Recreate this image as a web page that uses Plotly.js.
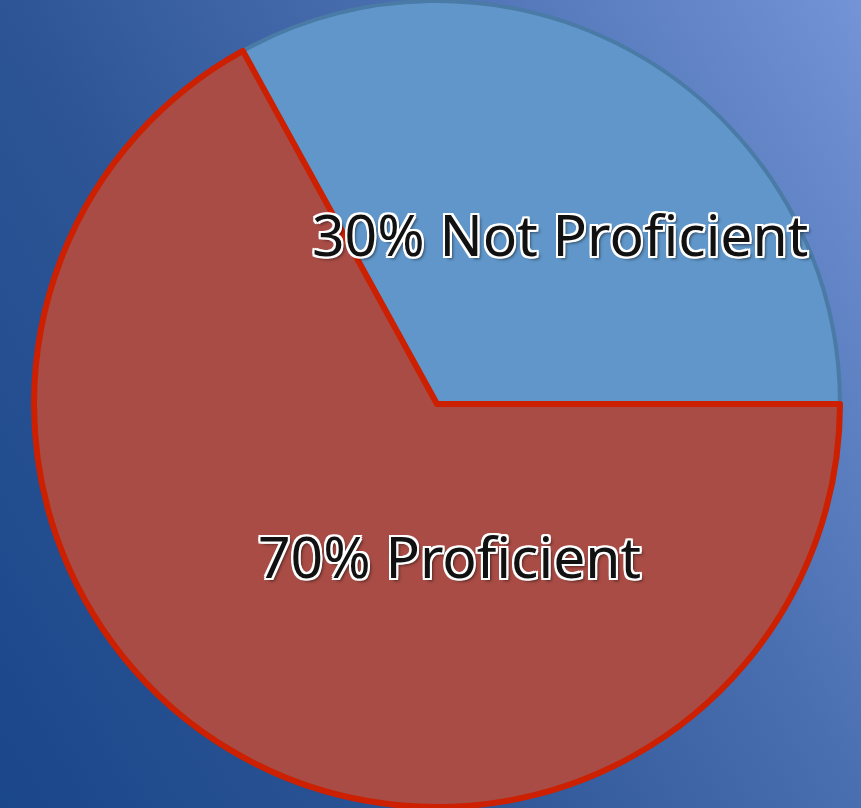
<!DOCTYPE html>
<html>
<head>
<meta charset="utf-8">
<script src="https://cdn.plot.ly/plotly-3.0.1.min.js"></script>
<style>
  html, body { margin: 0; padding: 0; width: 861px; height: 808px; overflow: hidden; }
  body { background: linear-gradient(60deg, #1a478a 0%, #2d5596 35%, #4a6fb0 65%, #7394d6 100%); }
  #chart { width: 861px; height: 808px; }
</style>
</head>
<body>
<div id="chart"></div>
<script>
// Data
const categories = ["Not Proficient", "Proficient"];
const values = [33, 67];              // slice sizes as drawn
const labelPercents = ["30%", "70%"]; // percentages printed on the slices

const sliceColors = ["#6096c9", "#a84c45"];
const lineColors = ["#4a7aa6", "#cc2000"];
const lineWidths = [4, 6];

// first slice ends at 3 o'clock, running clockwise from upper left
const total = values.reduce((a, b) => a + b, 0);
const startRotation = 90 - 360 * values[0] / total;

const trace = {
  type: "pie",
  labels: categories,
  values: values,
  sort: false,
  direction: "clockwise",
  rotation: startRotation,
  textinfo: "none",
  hoverinfo: "none",
  showlegend: false,
  marker: { colors: sliceColors, line: { color: lineColors, width: lineWidths } },
  domain: { x: [0.0395, 0.9756], y: [0, 1] }
};

const textFont = {
  family: "Noto Sans, Open Sans, sans-serif",
  size: 57,
  color: "#111111",
  shadow: "2px 0 0 #fff, -2px 0 0 #fff, 0 2px 0 #fff, 0 -2px 0 #fff, 2px 2px 0 #fff, -2px -2px 0 #fff, 2px -2px 0 #fff, -2px 2px 0 #fff, 3px 3px 3px rgba(0,0,0,0.5)"
};

const layout = {
  width: 861,
  height: 808,
  margin: { l: 0, r: 0, t: 0, b: 0 },
  paper_bgcolor: "rgba(0,0,0,0)",
  plot_bgcolor: "rgba(0,0,0,0)",
  annotations: [
    { text: labelPercents[0] + " " + categories[0], x: 0.6504, y: 0.71, xref: "paper", yref: "paper",
      xanchor: "center", yanchor: "middle", showarrow: false, font: textFont },
    { text: labelPercents[1] + " " + categories[1], x: 0.5215, y: 0.3119, xref: "paper", yref: "paper",
      xanchor: "center", yanchor: "middle", showarrow: false, font: textFont }
  ]
};

Plotly.newPlot("chart", [trace], layout, { displayModeBar: false, staticPlot: true });
</script>
</body>
</html>
